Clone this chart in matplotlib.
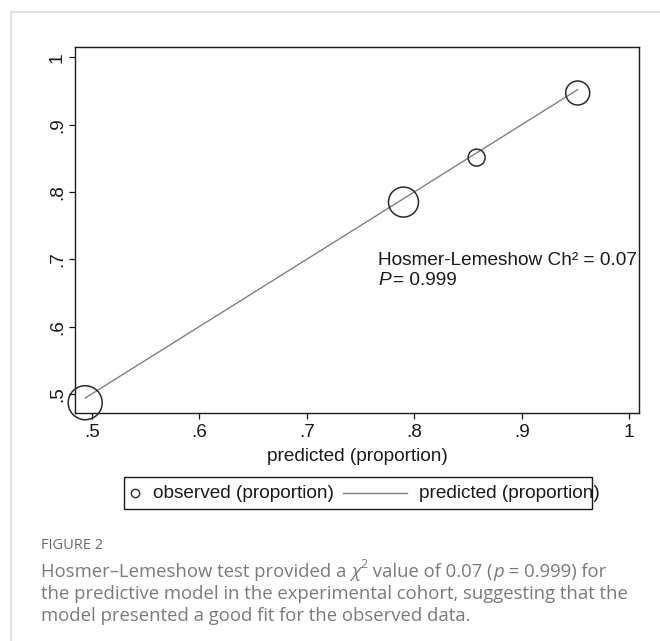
import matplotlib
matplotlib.use("Agg")
import matplotlib.pyplot as plt
from matplotlib.patches import Rectangle
from matplotlib.lines import Line2D

# ---- data ----
predicted = [0.494, 0.790, 0.858, 0.952]
observed = [0.487, 0.785, 0.851, 0.947]
marker_radius_px = [17, 15, 8.5, 12]   # Stata frequency-weighted marker sizes
xticks = [0.5, 0.6, 0.7, 0.8, 0.9, 1.0]
xtick_labels = [".5", ".6", ".7", ".8", ".9", "1"]
yticks = [0.5, 0.6, 0.7, 0.8, 0.9, 1.0]
ytick_labels = [".5", ".6", ".7", ".8", ".9", "1"]
hl_text = "Hosmer-Lemeshow Ch\u00b2 = 0.07"
p_text = "= 0.999"
xlabel = "predicted (proportion)"
legend_labels = ["observed (proportion)", "predicted (proportion)"]

W, H = 660, 641
fig = plt.figure(figsize=(W / 100, H / 100), dpi=100)
plt.rcParams['font.family'] = ['Liberation Sans', 'DejaVu Sans']
FS = 13.7
INK = "#1a1a1a"

def fx(px):
    return px / W

def fy(py):
    return 1 - py / H

# outer light frame
fig.add_artist(Line2D([fx(11), fx(660)], [fy(12), fy(12)], color="#dedede", lw=1.2))
fig.add_artist(Line2D([fx(11), fx(11)], [fy(12), fy(641)], color="#dedede", lw=1.2))

left, right, top, bottom = 75, 639.3, 47, 413.3
ax = fig.add_axes([fx(left), fy(bottom), (right - left) / W, (bottom - top) / H])
ax.set_xlim(0.4845, 1.0093)
ax.set_ylim(0.4713, 1.0153)

ax.plot(predicted, predicted, color="#808080", lw=1.0, zorder=2)
sizes = [(2 * r * 0.72) ** 2 for r in marker_radius_px]
ax.scatter(predicted, observed, s=sizes, facecolors="none", edgecolors="#2a2a2a",
           linewidths=1.1, zorder=3, clip_on=False)

for sp in ax.spines.values():
    sp.set_linewidth(1.0)
    sp.set_color(INK)

ax.set_xticks(xticks)
ax.set_xticklabels(xtick_labels)
ax.set_yticks(yticks)
ax.set_yticklabels(ytick_labels)
ax.tick_params(axis="both", direction="out", length=4.5, width=0.9, labelsize=FS,
               colors=INK)
ax.tick_params(axis="x", pad=3.5)
ax.tick_params(axis="y", pad=2)
for lbl in ax.get_yticklabels():
    lbl.set_rotation(90)
    lbl.set_va("center")
ax.set_xlabel(xlabel, fontsize=FS, labelpad=5, color=INK)

# annotation text
tx = 0.7665
t1 = ax.text(tx, 0.6914, hl_text, fontsize=FS, color=INK, va="baseline", clip_on=False)
tp = ax.text(tx, 0.6617, "P", fontsize=FS, style="italic", color=INK, va="baseline")
fig.canvas.draw()
r = fig.canvas.get_renderer()
bb = tp.get_window_extent(r)
xp, yp = ax.transData.transform((tx, 0.6617))
fig.text((bb.x1 + 2) / W, yp / H, p_text, fontsize=FS, color=INK, va="baseline")

# legend box (manual, Stata style)
fig.add_artist(Rectangle((fx(124), fy(509)), (592 - 124) / W, (509 - 477) / H,
                         fill=False, edgecolor=INK, lw=1.0))
fig.add_artist(Line2D([fx(135)], [fy(493)], marker="o", markersize=6,
                      markerfacecolor="none", markeredgecolor="#2a2a2a", mew=1.0))
fig.text(fx(153), fy(493), legend_labels[0], fontsize=FS, va="center", color=INK)
fig.add_artist(Line2D([fx(343), fx(407)], [fy(493), fy(493)], color="#808080", lw=1.0))
fig.text(fx(419), fy(493), legend_labels[1], fontsize=FS, va="center", color=INK)

# caption
cap_font = ["Open Sans", "DejaVu Sans"]
gray = "#7a7a7a"
CFS = 13.35
fig.text(fx(41), fy(549), "FIGURE 2", fontsize=10.5, family=cap_font, color="#6a6a6a",
         va="baseline")

def chain(pieces, x0, ybase):
    x = x0
    for txt, kw in pieces:
        t = fig.text(x / W, (ybase + kw.get("raise", 0)) / H, txt,
                     fontsize=kw.get("fs", CFS), family=cap_font,
                     color=gray, va="baseline", style=kw.get("style", "normal"))
        fig.canvas.draw()
        x = t.get_window_extent(fig.canvas.get_renderer()).x1 + kw.get("gap", 0)

base1 = H - 577
chain([("Hosmer\u2013Lemeshow test provided a ", {}),
       ("\u03c7", {"style": "italic"}),
       ("2", {"fs": 9, "raise": 9, "gap": 1}),
       (" value of 0.07 (", {}),
       ("p", {"style": "italic"}),
       (" = 0.999) for", {})], 41, base1)
fig.text(fx(41), (H - 599) / H,
         "the predictive model in the experimental cohort, suggesting that the",
         fontsize=CFS, family=cap_font, color=gray, va="baseline")
fig.text(fx(41), (H - 621) / H,
         "model presented a good fit for the observed data.",
         fontsize=CFS, family=cap_font, color=gray, va="baseline")

fig.savefig("out.png", dpi=100)
